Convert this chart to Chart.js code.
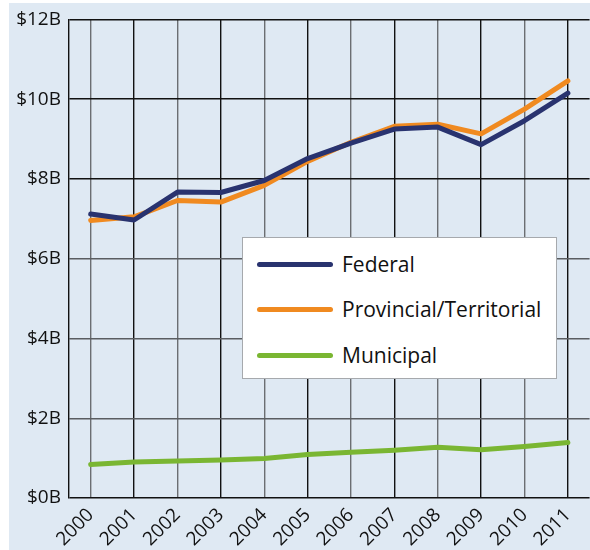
<!DOCTYPE html>
<html>
<head>
<meta charset="utf-8">
<script src="https://cdn.jsdelivr.net/npm/chart.js@4.4.0/dist/chart.umd.min.js"></script>
<style>
  html, body { margin: 0; padding: 0; background: #ffffff; }
  #wrap { position: relative; width: 590px; height: 550px; overflow: hidden; }
  #panel { position: absolute; left: 9px; top: 3px; right: 0; bottom: 0; background: #dfe9f3; }
  #chart { position: absolute; left: 0; top: 0; }
  #legend {
    position: absolute; left: 242px; top: 237px; width: 313px; height: 140px;
    background: #ffffff; border: 1.5px solid #a6a9ad;
    font-family: "Open Sans", sans-serif; font-size: 21px; color: #111;
  }
  .item { position: absolute; left: 14px; height: 30px; display: flex; align-items: center; }
  .swatch { width: 76px; height: 5px; border-radius: 3px; margin-right: 9px; }
</style>
</head>
<body>
<div id="wrap">
  <div id="panel"></div>
  <canvas id="chart" width="590" height="550"></canvas>
  <div id="legend"></div>
</div>
<script>
// years and spending in billions of dollars
const years = ["2000", "2001", "2002", "2003", "2004", "2005", "2006", "2007", "2008", "2009", "2010", "2011"];
const seriesNames = ["Federal", "Provincial/Territorial", "Municipal"];
const federal = [7.12, 6.97, 7.67, 7.66, 7.96, 8.51, 8.9, 9.25, 9.3, 8.86, 9.46, 10.15];
const provincial = [6.96, 7.05, 7.46, 7.42, 7.84, 8.44, 8.92, 9.32, 9.37, 9.13, 9.75, 10.46];
const municipal = [0.84, 0.9, 0.93, 0.95, 0.99, 1.09, 1.15, 1.2, 1.27, 1.21, 1.29, 1.39];
const yTicks = [0, 2, 4, 6, 8, 10, 12];

const colors = ["#29336f", "#f08a20", "#7ab632"];
const FONT = '"Open Sans", sans-serif';

const values = [federal, provincial, municipal];

const datasets = seriesNames.map((name, i) => ({
  label: name,
  data: values[i],
  borderColor: colors[i],
  backgroundColor: colors[i],
  borderWidth: 5,
  pointRadius: 0,
  tension: 0,
  borderJoinStyle: "round",
  borderCapStyle: "round"
}));

new Chart(document.getElementById("chart"), {
  type: "line",
  data: { labels: years, datasets },
  options: {
    responsive: false,
    animation: false,
    layout: { padding: { top: 17, right: 0, left: 0, bottom: 0 } },
    plugins: { legend: { display: false }, tooltip: { enabled: false } },
    scales: {
      x: {
        offset: true,
        grid: {
          drawTicks: false,
          color: ctx => (ctx.index % 2 === 0 ? "#6b6e72" : "#111111"),
          lineWidth: 1.4
        },
        border: { display: false },
        ticks: {
          color: "#111",
          font: { family: FONT, size: 19 },
          minRotation: 45,
          maxRotation: 45,
          padding: 6
        },
        afterFit: s => { s.height = 52; }
      },
      y: {
        min: 0,
        max: 12,
        afterBuildTicks: s => { s.ticks = yTicks.map(v => ({ value: v })); },
        grid: {
          drawTicks: false,
          color: ctx => ([2, 4, 6].includes(ctx.tick && ctx.tick.value) ? "#5a5d61" : "#111111"),
          lineWidth: 1.4
        },
        border: { display: true, color: "#111111", width: 1.4 },
        ticks: {
          color: "#111",
          font: { family: FONT, size: 19 },
          padding: 8,
          callback: v => "$" + v + "B"
        },
        afterFit: s => { s.width = 69; }
      }
    }
  }
});

// legend box built from the series names
const legend = document.getElementById("legend");
const rowCenters = [26, 71, 117];
seriesNames.forEach((name, i) => {
  const item = document.createElement("div");
  item.className = "item";
  item.style.top = (rowCenters[i] - 15) + "px";
  const sw = document.createElement("div");
  sw.className = "swatch";
  sw.style.background = colors[i];
  const txt = document.createElement("span");
  txt.textContent = name;
  item.appendChild(sw);
  item.appendChild(txt);
  legend.appendChild(item);
});
</script>
</body>
</html>
